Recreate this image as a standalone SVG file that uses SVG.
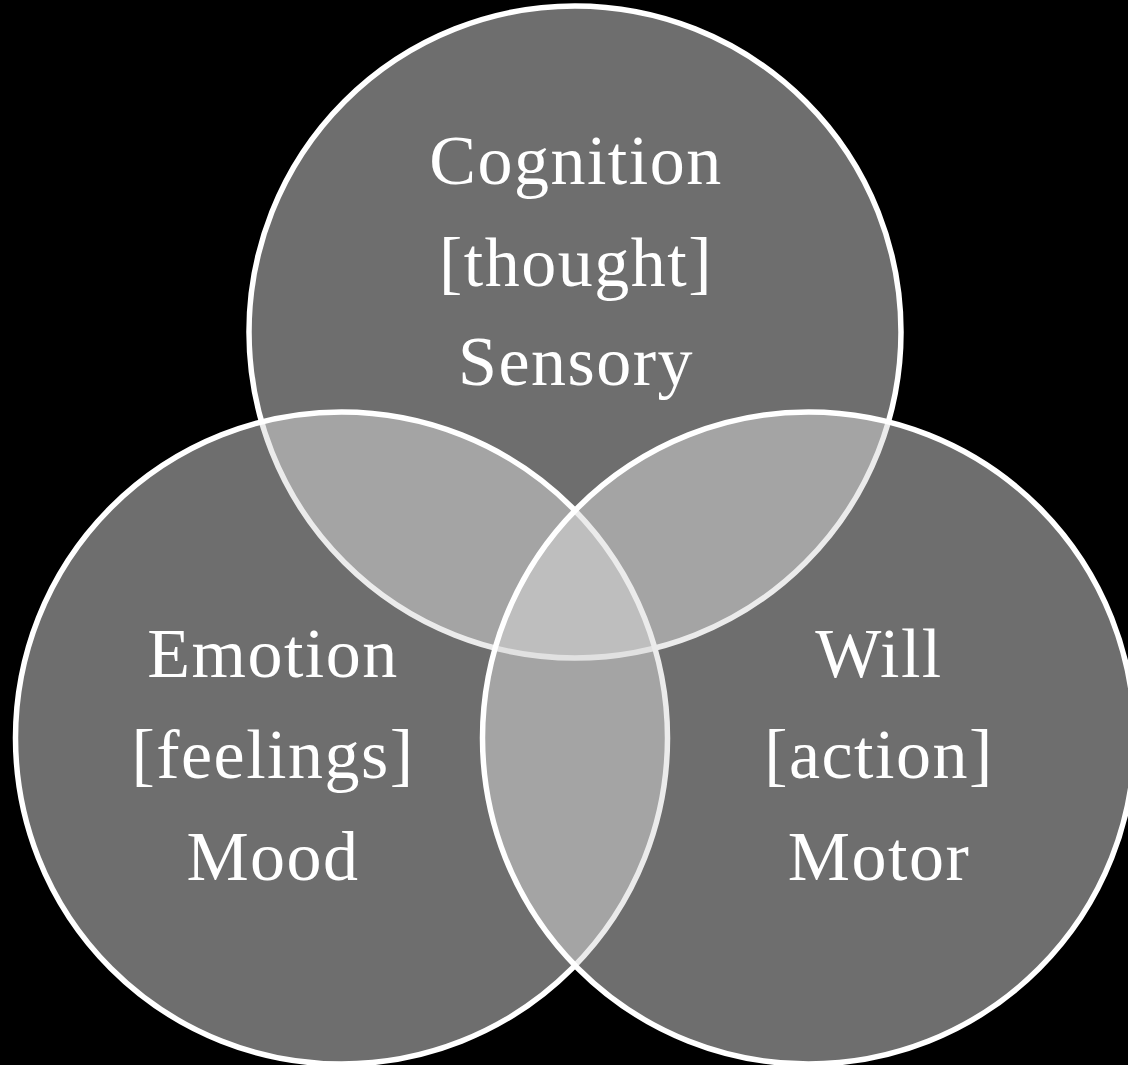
<svg xmlns="http://www.w3.org/2000/svg" width="1128" height="1065" viewBox="0 0 1128 1065">
  <style>
    .c { fill: #d8d8d8; fill-opacity: 0.51; stroke: #ffffff; stroke-width: 5.5; }
    .t { font-family: "Liberation Serif", "Times New Roman", serif; font-size: 70px; letter-spacing: 1.5px; fill: #ffffff; text-anchor: middle; }
  </style>
  <rect x="0" y="0" width="1128" height="1065" fill="#000000"/>
  <g id="node-cognition">
    <circle class="c" cx="575" cy="332" r="326"/>
    <text class="t" x="576" y="184">Cognition</text>
    <text class="t" x="576" y="286">[thought]</text>
    <text class="t" x="576" y="385">Sensory</text>
  </g>
  <g id="node-emotion">
    <circle class="c" cx="341.5" cy="738" r="326"/>
    <text class="t" x="273" y="677">Emotion</text>
    <text class="t" x="273" y="778">[feelings]</text>
    <text class="t" x="273" y="880">Mood</text>
  </g>
  <g id="node-will">
    <circle class="c" cx="808.5" cy="738" r="326"/>
    <text class="t" x="879" y="677">Will</text>
    <text class="t" x="879" y="778">[action]</text>
    <text class="t" x="879" y="880">Motor</text>
  </g>
  <g id="connectors"/>
</svg>
